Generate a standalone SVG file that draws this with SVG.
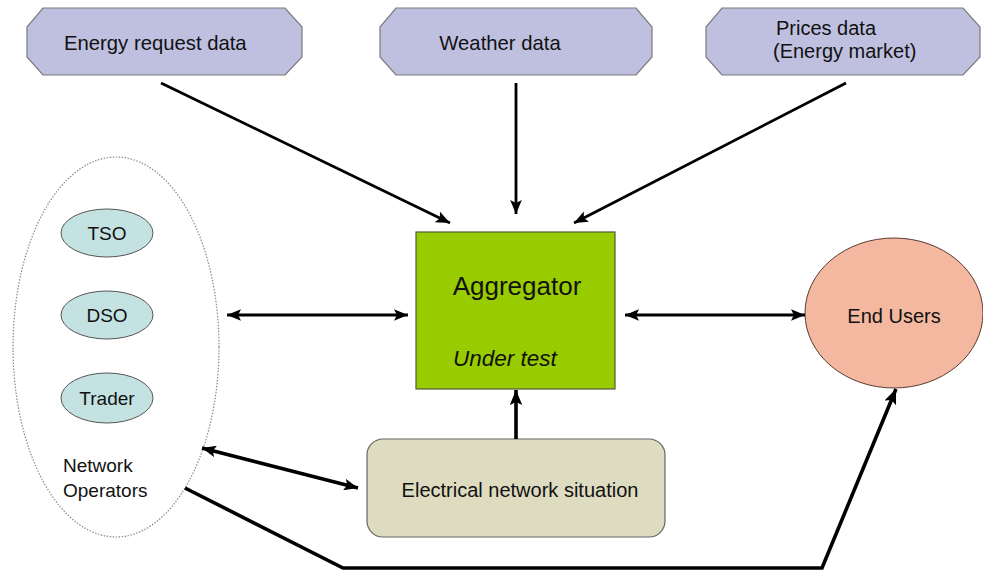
<svg xmlns="http://www.w3.org/2000/svg" width="983" height="571" viewBox="0 0 983 571">
  <style>
    text { font-family: "Liberation Sans", Arial, sans-serif; fill: #111; }
    .src { fill: #BFC0E0; stroke: #7a7a7a; stroke-width: 1.2; }
    .op { fill: #C4E2E2; stroke: #555; stroke-width: 1; }
    .link { stroke: #000; stroke-width: 2.8; fill: none; }
    .thick { stroke: #000; stroke-width: 3.6; fill: none; }
  </style>
  <defs>
    <marker id="head" viewBox="0 0 12 10" refX="12" refY="5" markerWidth="14" markerHeight="12" markerUnits="userSpaceOnUse" orient="auto-start-reverse">
      <path d="M0,0 L12,5 L0,10 L2.5,5 Z" fill="#000"/>
    </marker>
    <marker id="headBig" viewBox="0 0 12 10" refX="12" refY="5" markerWidth="15" markerHeight="13" markerUnits="userSpaceOnUse" orient="auto-start-reverse">
      <path d="M0,0 L12,5 L0,10 L2.5,5 Z" fill="#000"/>
    </marker>
  </defs>
  <rect width="983" height="571" fill="#fff"/>

  <!-- data sources -->
  <g id="energy-request">
    <polygon class="src" points="43,8 285,8 302,27 302,57 285,75 43,75 27,57 27,27"/>
    <text x="64" y="50" font-size="20.3">Energy request data</text>
  </g>
  <g id="weather">
    <polygon class="src" points="396,8 636,8 652,27 652,57 636,75 396,75 380,57 380,27"/>
    <text x="500" y="50" font-size="20.3" text-anchor="middle">Weather data</text>
  </g>
  <g id="prices">
    <polygon class="src" points="722,8 963,8 980,27 980,57 963,75 722,75 706,57 706,27"/>
    <text x="776" y="35" font-size="20">Prices data</text>
    <text x="773" y="58" font-size="20">(Energy market)</text>
  </g>

  <!-- network operators -->
  <g id="network-operators">
    <ellipse cx="116" cy="347" rx="103" ry="190" fill="#fff" stroke="#8a8a8a" stroke-width="1.2" stroke-dasharray="1.5,1.5"/>
    <text x="63" y="472" font-size="19">Network</text>
    <text x="63" y="497" font-size="19">Operators</text>
  </g>
  <g id="tso">
    <ellipse class="op" cx="107" cy="233" rx="46" ry="24"/>
    <text x="107" y="240" font-size="19" text-anchor="middle">TSO</text>
  </g>
  <g id="dso">
    <ellipse class="op" cx="107" cy="315" rx="46" ry="24"/>
    <text x="107" y="322" font-size="19" text-anchor="middle">DSO</text>
  </g>
  <g id="trader">
    <ellipse class="op" cx="107" cy="398" rx="46" ry="25"/>
    <text x="107" y="405" font-size="19" text-anchor="middle">Trader</text>
  </g>

  <!-- aggregator -->
  <g id="aggregator">
    <rect x="416" y="232" width="199" height="157" fill="#99CC00" stroke="#4d5a3a" stroke-width="1.2"/>
    <text x="517" y="295" font-size="26" text-anchor="middle">Aggregator</text>
    <text x="453" y="366" font-size="22.5" font-style="italic">Under test</text>
  </g>

  <!-- end users -->
  <g id="end-users">
    <ellipse cx="894" cy="313" rx="89" ry="75" fill="#F4B8A0" stroke="#5a3a30" stroke-width="1"/>
    <text x="894" y="323" font-size="20" text-anchor="middle">End Users</text>
  </g>

  <!-- electrical network situation -->
  <g id="electrical-network">
    <rect x="367" y="439" width="298" height="98" rx="16" ry="16" fill="#DDDBC0" stroke="#666" stroke-width="1.2"/>
    <text x="520" y="497" font-size="20" text-anchor="middle">Electrical network situation</text>
  </g>

  <!-- connectors -->
  <g id="connectors">
    <line class="link" x1="161" y1="83" x2="450" y2="223" marker-end="url(#head)"/>
    <line class="link" x1="516" y1="83" x2="516" y2="214" marker-end="url(#head)"/>
    <line class="link" x1="846" y1="83" x2="574" y2="223" marker-end="url(#head)"/>
    <line class="link" x1="227" y1="315" x2="408" y2="315" marker-start="url(#head)" marker-end="url(#head)"/>
    <line class="link" x1="625" y1="315" x2="805" y2="315" marker-start="url(#head)" marker-end="url(#head)"/>
    <line class="thick" x1="516" y1="439" x2="516" y2="390" marker-end="url(#headBig)"/>
    <line class="thick" x1="202" y1="448" x2="358" y2="488" marker-start="url(#head)" marker-end="url(#head)"/>
    <polyline class="thick" points="185,488 343,568 822,568 896,389" marker-end="url(#headBig)"/>
  </g>
</svg>
